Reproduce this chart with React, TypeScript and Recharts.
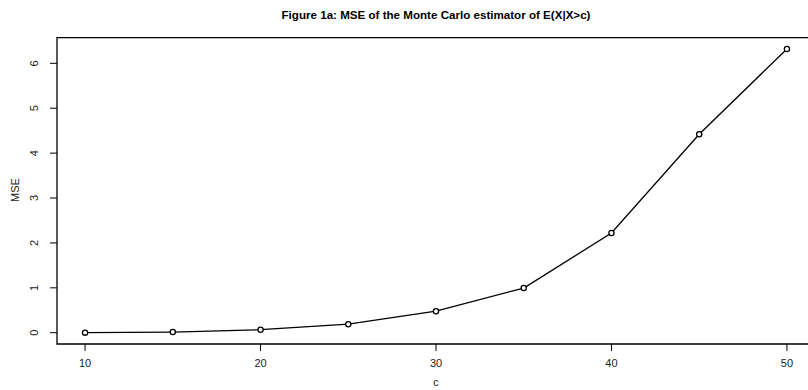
import { Line, LineChart, ReferenceArea, XAxis, YAxis } from "recharts";

const cValues = [10, 15, 20, 25, 30, 35, 40, 45, 50];
const mseValues = [0.002, 0.015, 0.067, 0.19, 0.48, 0.995, 2.22, 4.42, 6.32];
const xTicks = [10, 20, 30, 40, 50];
const yTicks = [0, 1, 2, 3, 4, 5, 6];

const data = cValues.map((c, i) => ({ c, mse: mseValues[i] }));

const FONT = "'Liberation Sans', Arial, sans-serif";
const X_DOMAIN: [number, number] = [8.4, 51.6];
const Y_DOMAIN: [number, number] = [-0.251, 6.573];

function YTick({ x, y, payload }: any) {
  return (
    <text
      x={x - 10}
      y={y}
      transform={`rotate(-90 ${x - 10} ${y})`}
      textAnchor="middle"
      fontSize={11}
      fontFamily={FONT}
      fill="#222"
    >
      {payload.value}
    </text>
  );
}

function XTick({ x, y, payload }: any) {
  return (
    <text
      x={x}
      y={y + 14}
      textAnchor="middle"
      fontSize={11}
      fontFamily={FONT}
      fill="#222"
    >
      {payload.value}
    </text>
  );
}

export default function App() {
  return (
    <div
      style={{
        position: "fixed",
        left: 0,
        top: 0,
        width: 808,
        height: 390,
        overflow: "hidden",
        background: "#fff",
        fontFamily: FONT,
      }}
    >
      <div
        style={{
          position: "absolute",
          left: 0,
          width: 872,
          top: 8,
          lineHeight: "14px",
          textAlign: "center",
          fontSize: 11.6,
          fontWeight: "bold",
          color: "#000",
        }}
      >
        Figure 1a: MSE of the Monte Carlo estimator of E(X|X&gt;c)
      </div>
      <div
        style={{
          position: "absolute",
          left: 15,
          top: 190,
          transform: "translate(-50%, -50%) rotate(-90deg)",
          fontSize: 11,
          color: "#222",
        }}
      >
        MSE
      </div>
      <div
        style={{
          position: "absolute",
          left: 430,
          width: 12,
          top: 376,
          lineHeight: "12px",
          textAlign: "center",
          fontSize: 11,
          color: "#222",
        }}
      >
        c
      </div>
      <LineChart
        width={820}
        height={390}
        data={data}
        margin={{ top: 37.6, right: 5, left: 12, bottom: 0 }}
      >
        <XAxis
          dataKey="c"
          type="number"
          domain={X_DOMAIN}
          ticks={xTicks}
          allowDataOverflow
          axisLine={false}
          tickLine={{ stroke: "#000" }}
          tickSize={7}
          tick={<XTick />}
          height={46}
        />
        <YAxis
          type="number"
          domain={Y_DOMAIN}
          ticks={yTicks}
          allowDataOverflow
          axisLine={false}
          tickLine={{ stroke: "#000" }}
          tickSize={7}
          tick={<YTick />}
          width={45}
        />
        <ReferenceArea
          x1={X_DOMAIN[0]}
          x2={X_DOMAIN[1]}
          y1={Y_DOMAIN[0]}
          y2={Y_DOMAIN[1]}
          fill="none"
          stroke="#000"
          strokeWidth={1.3}
          ifOverflow="visible"
        />
        <Line
          dataKey="mse"
          type="linear"
          stroke="#000"
          strokeWidth={1.3}
          dot={{ r: 2.6, fill: "#fff", stroke: "#000", strokeWidth: 1.3 }}
          isAnimationActive={false}
        />
      </LineChart>
    </div>
  );
}
